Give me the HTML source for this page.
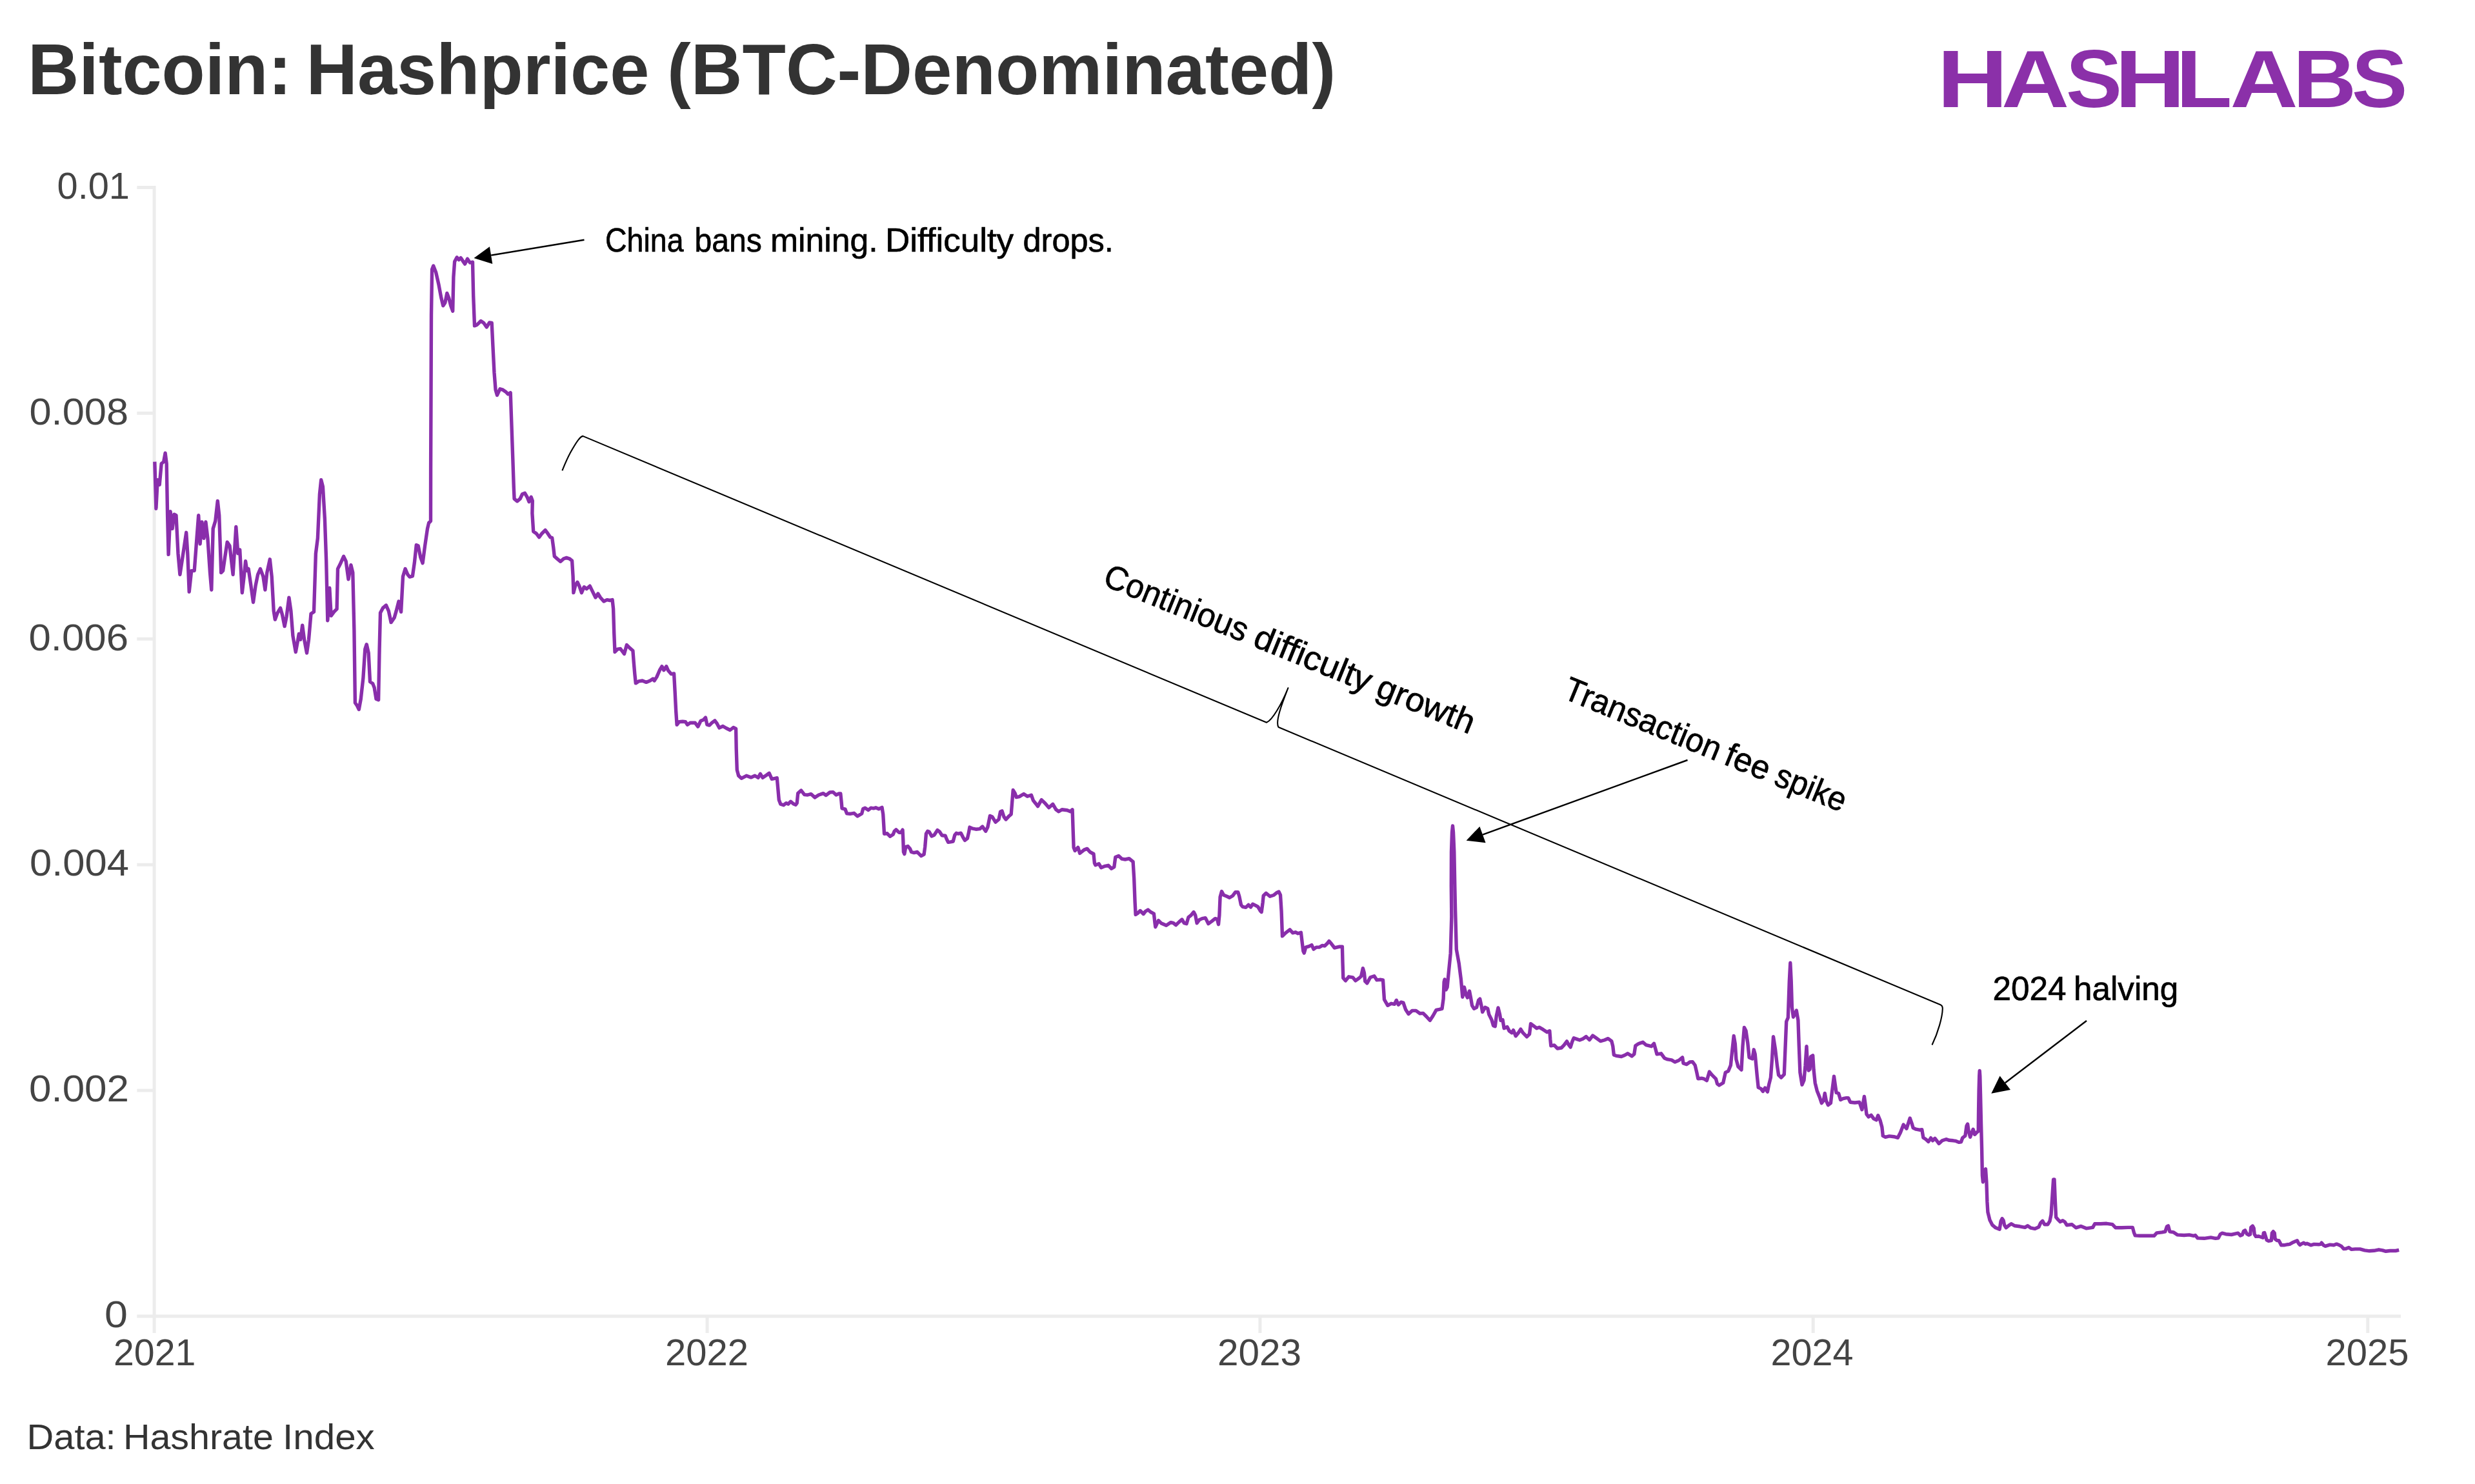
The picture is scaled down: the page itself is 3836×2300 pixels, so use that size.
<!DOCTYPE html>
<html lang="en"><head><meta charset="utf-8"><title>Bitcoin: Hashprice (BTC-Denominated)</title>
<style>
html,body{margin:0;padding:0;background:#fff;}
body{width:3836px;height:2300px;overflow:hidden;}
svg{display:block;}
text{font-family:"Liberation Sans",sans-serif;}
.title{font-size:112px;font-weight:bold;fill:#333333;}
.logo{font-size:126px;font-weight:bold;fill:#8b30a9;}
.tick{font-size:57px;fill:#444444;}
.foot{font-size:56px;fill:#333333;}
.ann{font-size:52px;fill:#000;stroke:#000;stroke-width:0.7px;}
</style></head><body>
<svg width="3836" height="2300" viewBox="0 0 3836 2300">
<rect width="3836" height="2300" fill="#fff"/>
<text class="title" y="146" ><tspan x="43" textLength="409" lengthAdjust="spacingAndGlyphs">Bitcoin:</tspan> <tspan x="474.5" textLength="531.9" lengthAdjust="spacingAndGlyphs">Hashprice</tspan> <tspan x="1034" textLength="1036.3" lengthAdjust="spacingAndGlyphs">(BTC-Denominated)</tspan></text>
<text class="logo" y="165.6" ><tspan x="3002.5" textLength="109.5" lengthAdjust="spacingAndGlyphs">H</tspan><tspan x="3102" textLength="105.1" lengthAdjust="spacingAndGlyphs">A</tspan><tspan x="3202" textLength="86.9" lengthAdjust="spacingAndGlyphs">S</tspan><tspan x="3278" textLength="108.9" lengthAdjust="spacingAndGlyphs">H</tspan><tspan x="3372.5" textLength="87.1" lengthAdjust="spacingAndGlyphs">L</tspan><tspan x="3456.5" textLength="105.1" lengthAdjust="spacingAndGlyphs">A</tspan><tspan x="3554" textLength="98.1" lengthAdjust="spacingAndGlyphs">B</tspan><tspan x="3645" textLength="86.3" lengthAdjust="spacingAndGlyphs">S</tspan></text>
<g stroke="#ececec" stroke-width="5" fill="none"><line x1="239.1" y1="288" x2="239.1" y2="2066"/><line x1="212.3" y1="2040" x2="3721" y2="2040"/><line x1="212.3" y1="290.5" x2="239.3" y2="290.5"/><line x1="212.3" y1="640.4" x2="239.3" y2="640.4"/><line x1="212.3" y1="990.3" x2="239.3" y2="990.3"/><line x1="212.3" y1="1340.2" x2="239.3" y2="1340.2"/><line x1="212.3" y1="1690.1" x2="239.3" y2="1690.1"/><line x1="1096.1" y1="2040" x2="1096.1" y2="2066"/><line x1="1952.9" y1="2040" x2="1952.9" y2="2066"/><line x1="2810.2" y1="2040" x2="2810.2" y2="2066"/><line x1="3669.8" y1="2040" x2="3669.8" y2="2066"/></g>
<text class="tick" x="88.5" y="307.7" textLength="112.5" lengthAdjust="spacingAndGlyphs">0.01</text><text class="tick" x="45.5" y="657.6" textLength="153.5" lengthAdjust="spacingAndGlyphs">0.008</text><text class="tick" x="44.5" y="1007.5" textLength="154.5" lengthAdjust="spacingAndGlyphs">0.006</text><text class="tick" x="46" y="1357.4" textLength="153.9" lengthAdjust="spacingAndGlyphs">0.004</text><text class="tick" x="45" y="1707.3" textLength="155.0" lengthAdjust="spacingAndGlyphs">0.002</text><text class="tick" x="162" y="2057.2" textLength="35.9" lengthAdjust="spacingAndGlyphs">0</text><text class="tick" x="176" y="2116" textLength="127.3" lengthAdjust="spacingAndGlyphs">2021</text><text class="tick" x="1031" y="2116" textLength="128.9" lengthAdjust="spacingAndGlyphs">2022</text><text class="tick" x="1887" y="2116" textLength="130" lengthAdjust="spacingAndGlyphs">2023</text><text class="tick" x="2744.5" y="2116" textLength="127.9" lengthAdjust="spacingAndGlyphs">2024</text><text class="tick" x="3604.5" y="2116" textLength="128.9" lengthAdjust="spacingAndGlyphs">2025</text>
<text class="foot" y="2246.3" ><tspan x="41.5" textLength="138.2" lengthAdjust="spacingAndGlyphs">Data:</tspan> <tspan x="191" textLength="232.9" lengthAdjust="spacingAndGlyphs">Hashrate</tspan> <tspan x="438" textLength="142.8" lengthAdjust="spacingAndGlyphs">Index</tspan></text>
<path d="M239.8,715.6 L241.9,788.2 L244.2,743.7 L247.2,751.2 L250.2,718.5 L253.7,715.6 L256.1,702.2 L258.2,718.5 L259.6,798.6 L261.1,859.4 L264.1,792.7 L267.1,819.4 L270,797.1 L273,798.6 L276,857.9 L278.9,890.5 L283.4,860.9 L288.7,825.3 L290.8,857.9 L293.2,917.2 L296.7,884.6 L301.2,884.6 L304.1,846 L307.7,798.6 L310.1,843.1 L313,809 L316,834.2 L318.9,809 L321.9,834.2 L325.5,887.5 L327.8,914.2 L330.2,819.4 L333.8,807.5 L337.3,776.4 L339.7,798.6 L342.7,887.5 L345.6,884.6 L348.6,863.8 L352.2,840.1 L356,846 L361.1,890.5 L364,846 L365.8,816.4 L368.8,857.9 L371.7,852 L375.3,918.7 L378.2,893.5 L380.6,869.8 L382.7,884.6 L385.1,881.6 L388.6,905.3 L392.5,933.5 L396,908.3 L399.6,890.5 L403.5,881.6 L407.9,893.5 L410.9,914.2 L413.8,887.5 L418.3,866.8 L421.2,893.5 L424.2,946.8 L426.3,960.2 L430.1,949.8 L434.6,942.4 L437.5,952.8 L441.1,970.6 L444.1,955.7 L447.9,926.1 L450.9,946.8 L453.9,985.4 L458.3,1010.6 L461.3,994.3 L463.3,982.4 L465.7,991.3 L468.7,969.1 L471.6,991.3 L475.5,1012.1 L478.5,991.3 L482,951.3 L486.5,948.3 L489.4,857.9 L492.4,834.2 L495.4,766 L497.7,743.7 L500.4,754.1 L503.4,804.5 L505.7,869.8 L507.8,961.7 L510.8,911.3 L513.2,954.3 L517.6,948.3 L522.1,943.9 L523.5,881.6 L528,872.7 L532.6,862.3 L536.2,869.8 L540,897.9 L543.9,875.7 L546.8,887.5 L548.9,976.5 L550.4,1089.2 L553.4,1093.6 L556.3,1099.5 L559.3,1083.2 L562.9,1050.6 L565.8,1006.1 L568.2,998.7 L571.2,1012.1 L573.5,1056.6 L577.7,1059.5 L580.1,1065.4 L583,1083.2 L586.6,1084.7 L588.1,1006.1 L589.5,949.8 L593.4,942.4 L598.4,938 L602.3,946.8 L606.1,964.6 L611.2,957.2 L614.2,946.8 L618,932 L621.6,948.3 L624.5,893.5 L628.1,881.6 L631.9,890.5 L634.9,894.1 L639.4,892.9 L642.3,872.7 L645.3,844.6 L648.2,846 L651.8,863.8 L655.1,872.7 L658.6,846 L662.5,819.4 L664.6,810.5 L667.5,807.5 L667.6,725.8 L668.5,488.6 L669.6,417.4 L671.7,412.1 L675.6,421.9 L680,441.2 L683.9,461.9 L686.8,473.8 L689.8,469.3 L692.8,454.5 L695.7,461.9 L698.7,473.8 L701.7,482.1 L702.9,429.3 L704.6,405.6 L708.2,398.8 L711.2,402.6 L714.1,399.6 L717.1,404.1 L720.6,409.1 L724.5,401.1 L728.4,407.1 L732.5,406.2 L733.7,458.9 L735.5,504.9 L739.3,503.4 L745.3,497.5 L749.7,500.5 L754.2,507 L758.6,499.9 L762.2,500.5 L763.9,536 L766,577.5 L768.1,604.2 L770.5,612.5 L774.9,602.8 L779.4,604.2 L783.8,607.2 L787.4,610.8 L791.2,608.7 L792.7,651.7 L794.8,711 L796.3,755.4 L797.1,773.2 L801.6,776.8 L806,773.2 L809.6,765.8 L813.5,764.3 L817,770.3 L820,777.7 L823.2,770.3 L825.3,776.2 L824.9,795.6 L826.7,823.7 L831.1,826.7 L835.6,832.6 L840,826.7 L845.1,821.7 L848.9,826.7 L852.8,832.6 L855.7,833.5 L857.8,848.9 L859.3,862.3 L863.7,866.1 L868.8,870.3 L873.5,866.1 L877.7,864.4 L883,866.1 L886.6,869.1 L888.1,893.4 L888.9,918.6 L891.9,906.8 L894.9,902.3 L897.8,908.2 L901.4,918.6 L905.3,909.7 L909.1,912.7 L914.2,908.2 L917.1,914.2 L923,926 L926.9,920.1 L930.5,926 L935.8,932 L940.8,929.6 L945.3,930.5 L949.1,929.6 L950.6,943.8 L951.8,982.4 L953,1010.5 L957.1,1006.1 L961.6,1005.5 L967.5,1013.5 L971.4,999.6 L976.4,1004.6 L980.9,1008.5 L982.3,1026.8 L983.8,1044.6 L985.3,1058.9 L989.8,1055.9 L995.7,1055 L1001.6,1057.4 L1007.5,1055 L1012,1052.1 L1014.1,1055 L1017.9,1049.1 L1022.4,1038.7 L1025.9,1032.8 L1028.9,1038.7 L1032.8,1032.8 L1035.7,1039.3 L1040.2,1044.6 L1044.6,1044 L1046.1,1071.3 L1047.6,1101 L1049.1,1123.2 L1052.6,1118.8 L1058,1118.2 L1062.4,1118.8 L1065.4,1123.2 L1069.8,1120.2 L1077.2,1120.2 L1081.7,1126.2 L1086.1,1117.3 L1090,1115.8 L1093.5,1112.2 L1095.9,1123.2 L1099.5,1124.1 L1103.2,1120.4 L1107.9,1116.8 L1111.3,1121.4 L1114.8,1128.1 L1120.4,1125.5 L1125.5,1128.5 L1131.5,1131.5 L1136.6,1127.5 L1140.6,1129.5 L1141.2,1160.9 L1142.3,1193.2 L1144.7,1202.3 L1149.1,1206.3 L1156.8,1202.3 L1163.9,1204.9 L1170,1202.3 L1175,1205.3 L1178.4,1199.3 L1182.1,1205.3 L1188.1,1201.3 L1192.2,1198.3 L1196.2,1207.3 L1201.3,1206.3 L1204.3,1205.7 L1205.7,1221.5 L1207.3,1239.7 L1209.8,1246.2 L1214.4,1247.8 L1218.5,1244.7 L1221.5,1246.2 L1225.5,1242.3 L1229.6,1245.8 L1233.2,1247.4 L1235.2,1244.7 L1236.7,1229.6 L1241.7,1225.1 L1246.8,1231.6 L1251.8,1232 L1256.9,1230.6 L1262.9,1236.1 L1269,1232 L1276.1,1229.6 L1280.1,1232.6 L1286.2,1228 L1291.2,1227.6 L1295.9,1232 L1300.3,1230 L1302.8,1230 L1304,1241.7 L1305,1252.8 L1310,1254.2 L1312.5,1260.9 L1317.5,1261.3 L1323.6,1260.3 L1329,1265 L1335.7,1260.9 L1337.7,1253.4 L1340.8,1252.2 L1345.8,1255.5 L1349.9,1252.2 L1353.9,1252.8 L1357.3,1251.8 L1362,1253.8 L1367,1251.4 L1368.7,1261.9 L1369.7,1278.1 L1370.5,1292.2 L1375.1,1291.8 L1379.6,1296.3 L1384.2,1293.3 L1386.2,1288.2 L1388.9,1285.8 L1393.3,1290.2 L1396.4,1290.2 L1399,1286.2 L1399.8,1302.4 L1400.4,1320.5 L1401.8,1323.6 L1403.8,1312.5 L1407.1,1311.5 L1410.5,1315.5 L1412.5,1320.5 L1416.6,1321.6 L1421.6,1320.5 L1424.7,1323.6 L1427.7,1326.6 L1432.1,1324.2 L1433.7,1312.5 L1435.4,1292.2 L1437.8,1288.2 L1440.2,1289.2 L1443.9,1295.9 L1447.9,1294.3 L1453,1286.6 L1456.4,1289.2 L1460,1294.7 L1465.1,1295.3 L1467.1,1300.3 L1469.7,1305.4 L1473.2,1304.8 L1477.2,1304 L1479.8,1294.3 L1482.3,1291.2 L1485.3,1292.2 L1489.3,1291.2 L1492.4,1297.3 L1495.4,1302.4 L1499.4,1299.3 L1501.5,1290.2 L1502.9,1282.1 L1507.5,1284.2 L1512.6,1285.2 L1518.6,1284.6 L1522.7,1281.1 L1527.7,1288.2 L1530.8,1282.1 L1534.4,1264.4 L1537.9,1266 L1542.9,1274.1 L1548,1270 L1550.6,1257.9 L1553,1256.9 L1556,1266 L1559.1,1270 L1563.1,1265.6 L1567.2,1261.9 L1568.8,1241.7 L1570.2,1224.5 L1573.2,1229.6 L1575.2,1235.6 L1579.9,1234.6 L1586.7,1230.5 L1592.3,1234.2 L1598.4,1232.2 L1601.4,1240.6 L1605.5,1245.7 L1608.5,1249.7 L1614.2,1239.6 L1619.6,1244.7 L1625.7,1251.8 L1631.8,1246.3 L1636.8,1254.8 L1640.9,1257.8 L1645.9,1254.8 L1654,1255.8 L1659,1257.8 L1662.1,1254.8 L1663.1,1285.1 L1664.1,1313.4 L1666.1,1318.5 L1670.8,1313.4 L1673.6,1322.5 L1680.3,1317.1 L1684.9,1315.4 L1689.4,1320.5 L1695,1323.5 L1696.4,1337.7 L1697.9,1340.7 L1703.1,1338.7 L1706.6,1344.7 L1711.6,1342.7 L1717.7,1341.3 L1722.7,1346.2 L1726.8,1343.7 L1728.8,1328.6 L1733.8,1326.6 L1738.9,1331.2 L1743.9,1332 L1750,1330.6 L1756.1,1335.6 L1757.7,1361.9 L1759.1,1398.3 L1760.1,1417.5 L1763.2,1415.5 L1767.2,1411.5 L1772.2,1416.5 L1775.3,1412.5 L1779.3,1410 L1783.4,1413.5 L1788.4,1416.1 L1790,1430.7 L1790.8,1436.7 L1795.5,1426.6 L1799.5,1430.7 L1807.6,1434.3 L1814.7,1429.6 L1818.7,1430.7 L1822.4,1433.7 L1827.8,1428.6 L1831.9,1425 L1835.3,1430.7 L1839,1431.7 L1842,1421.6 L1846,1418.5 L1850.1,1413.5 L1852.7,1418.5 L1855.1,1430.7 L1858.8,1425.6 L1863.2,1423.6 L1868.3,1422.6 L1872.9,1431.7 L1878.4,1427.6 L1883.4,1423.6 L1886.5,1424.6 L1888.5,1432.7 L1889.9,1418.5 L1891.1,1390.2 L1893.5,1381.5 L1896.6,1387.2 L1901.6,1389.2 L1905.7,1391.2 L1910.7,1388.2 L1914.8,1382.7 L1918.8,1382.7 L1920.8,1389.2 L1923.5,1402.4 L1925.9,1405.4 L1930.9,1406.4 L1935,1402.4 L1938.4,1406 L1941.6,1401.3 L1946.1,1403.4 L1949.7,1405.4 L1953.2,1411.5 L1955.2,1413.5 L1957.2,1398.3 L1958.2,1388.2 L1962.3,1384.2 L1968.3,1389.2 L1974.4,1387.2 L1979.4,1383.2 L1982.1,1382.1 L1984.5,1387.2 L1986.1,1412.5 L1987.5,1450.9 L1992.6,1445.8 L1999.1,1440.8 L2003.7,1445.8 L2007.7,1444.8 L2011.8,1446.8 L2016.4,1445.2 L2018.5,1463 L2019.9,1474.1 L2021.3,1477.1 L2023.9,1468.1 L2029,1466.6 L2033,1464.6 L2036,1471.1 L2040.1,1468.1 L2045.1,1468.1 L2049.2,1465.4 L2053.2,1466 L2057.3,1462 L2059.9,1458.6 L2063.2,1462.3 L2068.3,1469 L2075.4,1467.3 L2080.4,1467.3 L2081,1491.6 L2081.8,1515.8 L2085.5,1519.9 L2090.5,1513.8 L2096.6,1514.8 L2101,1519.9 L2106.7,1515.8 L2109.7,1512.8 L2112.4,1500.7 L2114.4,1507.8 L2115.8,1520.9 L2118.8,1523.9 L2123.9,1514.8 L2129.9,1512.8 L2134,1518.9 L2140.1,1518.3 L2143.5,1518.9 L2144.5,1534 L2145.5,1549.2 L2150.8,1558.3 L2156.2,1555.3 L2161.3,1556.3 L2164.3,1550.2 L2167.3,1557.3 L2171.4,1553.2 L2175,1554.2 L2178.5,1564.4 L2183.1,1571.4 L2188.6,1566.4 L2194.6,1566.4 L2200.7,1570.8 L2205.7,1570.4 L2210.8,1575.5 L2216.3,1581.5 L2220.9,1574.5 L2226,1565.4 L2231,1564.4 L2235,1563.3 L2237.1,1548.2 L2238.1,1521.9 L2239.1,1517.9 L2241.1,1534 L2243.1,1530 L2245.2,1507.8 L2248.2,1477.4 L2249.8,1420.8 L2249.6,1400 L2249.3,1373 L2249.5,1320 L2250.5,1290 L2251.5,1280 L2252.5,1290 L2253.8,1320 L2254.8,1373 L2255.6,1410 L2255.9,1420.8 L2257.3,1471.4 L2261.3,1493.6 L2264.4,1517.9 L2266.8,1545.2 L2269.4,1530 L2272.4,1542.1 L2274.5,1546.2 L2277.5,1536.1 L2279.5,1546.2 L2281.5,1558.3 L2284.6,1563.3 L2288.6,1561.3 L2291.6,1550.2 L2293.7,1548.2 L2295.7,1557.3 L2297.7,1568.4 L2301.7,1561.3 L2305.8,1563.3 L2307.8,1572.4 L2311.9,1580.5 L2314.5,1589.6 L2317.3,1590.6 L2319.3,1574.5 L2322,1561.9 L2324.6,1572.4 L2326,1581.5 L2329,1580.5 L2331.1,1593.7 L2336.1,1591.6 L2339.1,1597.7 L2343.2,1600.7 L2345.6,1596.7 L2349.2,1605.8 L2353.3,1600.7 L2356.9,1595.1 L2360.4,1600.7 L2366.4,1606.8 L2370.5,1602.8 L2372.5,1586.6 L2376.5,1589.6 L2381.6,1593.7 L2385.6,1592.2 L2391.7,1595.7 L2397.8,1599.7 L2401.8,1597.7 L2402.8,1610.8 L2403.8,1620.9 L2408.9,1619.9 L2413.9,1625 L2420,1624 L2424,1619.9 L2428.5,1613.9 L2431.1,1618.9 L2434.1,1623 L2436.6,1614.9 L2439.2,1608.8 L2444.3,1610.6 L2448.3,1612 L2453.4,1610 L2458.4,1606.6 L2463.5,1611.6 L2468.5,1605.1 L2473.6,1608.6 L2480.6,1613.6 L2486.7,1612 L2492.4,1609.6 L2497.8,1613.6 L2499.8,1621.7 L2501.3,1634.9 L2504.9,1636.3 L2513,1637.5 L2518,1635.5 L2522.7,1632.8 L2529.2,1636.9 L2532.8,1633.8 L2534.8,1620.7 L2539.3,1617.7 L2546.3,1615.2 L2551.4,1619.7 L2559.5,1621.7 L2563.5,1617.3 L2565.9,1625.8 L2568,1633.8 L2574.6,1632.8 L2579.7,1639.9 L2584.7,1641.9 L2590.8,1642.9 L2595.9,1646 L2601.9,1643.5 L2607.6,1638.9 L2609,1648 L2614.1,1649.6 L2619.1,1646 L2623.2,1645.6 L2627.2,1651 L2629.8,1662.1 L2631.8,1671.8 L2637.3,1671.2 L2641.3,1672.2 L2645.4,1674.7 L2649.4,1661.1 L2653.5,1666.2 L2659.5,1672.2 L2661.6,1679.9 L2664.6,1682 L2670.7,1678.3 L2674.3,1662.1 L2678.7,1660.1 L2682.4,1651 L2684.8,1627.8 L2687.2,1605.5 L2689.3,1617.7 L2690.9,1641.9 L2693.9,1653 L2699,1658.1 L2701,1621.7 L2703.4,1592.4 L2706,1597.5 L2708.7,1615.6 L2711.1,1638.9 L2716.1,1640.9 L2718.2,1626.8 L2720.2,1633.8 L2723.2,1666.2 L2725.2,1685.4 L2729.3,1687.4 L2732.3,1691.5 L2735.7,1686 L2739.4,1692.1 L2741.8,1680.3 L2744.4,1670.2 L2746.5,1641.9 L2748.5,1606.6 L2751.5,1625.8 L2754.5,1652 L2756.6,1666.2 L2760.6,1670.2 L2765.3,1665.2 L2766.7,1631.8 L2768.7,1583.3 L2771.3,1577.2 L2773.3,1520.6 L2774.8,1492.3 L2776.2,1520.6 L2777.4,1561.1 L2779.4,1576.2 L2781.8,1572.2 L2784.3,1566.1 L2786.9,1581.3 L2788.3,1621.7 L2789.9,1662.1 L2793,1681.3 L2796,1674.3 L2798,1652 L2800,1621.7 L2801,1641.9 L2803.1,1659.1 L2805.1,1657.1 L2806.5,1637.9 L2809.7,1635.9 L2811.1,1658.1 L2813.2,1678.3 L2816.2,1690.4 L2820.2,1700.5 L2823.3,1709.6 L2826.3,1705.6 L2828.3,1694.5 L2830.3,1705.6 L2833.4,1712.7 L2837.4,1709.6 L2839.4,1692.5 L2842.5,1668.2 L2844.5,1682.4 L2846.1,1693.5 L2849.6,1694.5 L2852.6,1704.6 L2856.6,1702.6 L2861.7,1701.6 L2864.7,1701.6 L2867.7,1708.2 L2874.8,1709 L2881.9,1708.2 L2885.9,1719.8 L2889.4,1699.5 L2891,1710.7 L2893,1726.8 L2896,1730.9 L2900.1,1728.4 L2904.1,1733.9 L2908.2,1735.9 L2910.8,1728.8 L2914.2,1736.9 L2916.9,1747 L2918.3,1760 L2918.2,1760.3 L2922.2,1762.3 L2928.3,1760.9 L2935.4,1761.7 L2941.4,1763.3 L2945.5,1755.2 L2950.1,1743.1 L2955,1749.2 L2957.6,1741.1 L2960.2,1733 L2963.1,1741.1 L2965.1,1748.1 L2969.7,1750.2 L2974.8,1751.2 L2978.8,1750.8 L2980.9,1763.3 L2984.9,1765.7 L2988.9,1769.4 L2992.6,1763.7 L2995.4,1767.8 L2999,1764.3 L3002.1,1768.4 L3005.1,1772.4 L3010.2,1767.8 L3016.2,1765.7 L3021.3,1767.3 L3027.3,1767.8 L3031.4,1768.4 L3036.4,1770.4 L3039.5,1769.8 L3041.9,1763.3 L3045.9,1760.3 L3048,1745.1 L3049.6,1742.1 L3051.2,1753.2 L3053.6,1762.3 L3056.1,1755.2 L3058.1,1750.2 L3060.7,1758.3 L3063.7,1755.2 L3066.2,1753.2 L3066.6,1720 L3067.1,1690 L3067.7,1668 L3068.2,1659.5 L3068.8,1668 L3069.5,1695 L3070.6,1743 L3071.6,1781 L3072.4,1821.9 L3073.4,1832 L3075.5,1815.9 L3077.5,1811.8 L3078.9,1832 L3079.9,1862.4 L3080.9,1878.5 L3083.9,1890.7 L3088,1898.7 L3093,1902.8 L3099.1,1905.2 L3101.1,1892.7 L3103.2,1888.6 L3105.2,1891.7 L3106.6,1898.7 L3109.2,1902.8 L3114.3,1898.7 L3117.3,1896.7 L3122.4,1899.8 L3130.4,1900.8 L3138.5,1902.4 L3142.6,1899.8 L3147.6,1903.2 L3153.7,1904.4 L3159.8,1901.8 L3162.8,1895.1 L3165.8,1892.3 L3168.8,1897.7 L3173.9,1897.7 L3176.9,1892.7 L3179,1882.6 L3181,1852.2 L3182.6,1828 L3184,1828 L3185.4,1862.4 L3186.6,1886.6 L3190.1,1890.7 L3193.1,1893.7 L3197.1,1891.7 L3200.2,1893.7 L3203.2,1898.7 L3211.3,1897.7 L3217.4,1902.8 L3225.4,1900.4 L3233.5,1903.8 L3243.6,1902.4 L3246.7,1896.7 L3255.8,1896.7 L3264.9,1896.3 L3274,1897.7 L3279,1902.8 L3288.1,1902.8 L3298.2,1902.4 L3305.3,1902.4 L3307.3,1909.9 L3309.3,1914.9 L3316.4,1915.3 L3328.5,1915.3 L3338.6,1915.3 L3342.7,1910.9 L3350.8,1909.9 L3355.8,1908.8 L3358.5,1900.8 L3360.5,1899.8 L3362.9,1908.8 L3369,1909.9 L3375,1913.9 L3385.1,1914.5 L3393.2,1913.9 L3399.9,1915.3 L3402.5,1914.5 L3406.2,1918.9 L3416.4,1919.3 L3426.5,1917.9 L3433.8,1919.3 L3438.2,1918.9 L3441.1,1913.1 L3444,1911.2 L3449.8,1912.7 L3458.5,1913.5 L3464.4,1912.1 L3468.7,1911.2 L3472.4,1915 L3475.3,1913.8 L3477.5,1908 L3479.6,1906.8 L3482.5,1912.4 L3485.5,1914.1 L3487.6,1913.1 L3488.8,1902.2 L3491.3,1900 L3493.2,1903.6 L3494.2,1913.1 L3496.4,1916.4 L3500.7,1916 L3505.1,1917.5 L3507.3,1918.2 L3508.3,1910.9 L3509.7,1910.6 L3511.6,1916.7 L3513.1,1921.8 L3516,1923.3 L3520.4,1922.5 L3521.4,1910.9 L3523.3,1908.7 L3525.2,1910.9 L3526.2,1920.4 L3529.1,1922.5 L3532,1922.8 L3534.2,1926.9 L3535.6,1929.8 L3540,1929.8 L3545.8,1928.7 L3548.7,1928.4 L3554.5,1925.2 L3560.4,1922.8 L3562.5,1926.9 L3564.7,1929.5 L3567.6,1927.6 L3570.5,1926.2 L3573.5,1928.1 L3575.6,1927.2 L3581.5,1929.8 L3586.5,1928.4 L3593.8,1928.7 L3596.7,1928.4 L3598.2,1926.2 L3601.1,1929.8 L3604,1931.3 L3611.3,1929.1 L3617.1,1929.8 L3621.5,1928.1 L3625.8,1929.8 L3628.7,1931.3 L3632.4,1935.6 L3636,1935.3 L3640.4,1933.5 L3644.7,1936.4 L3650.5,1935.9 L3657.8,1935.9 L3665.1,1937.8 L3672.4,1938.8 L3679.6,1938.3 L3686.9,1936.8 L3692.7,1937.8 L3697.8,1939.3 L3704.4,1938.5 L3713.1,1938.5 L3718.2,1937.4" fill="none" stroke="#892eab" stroke-width="5.4" stroke-linejoin="round" stroke-linecap="butt"/>
<path d="M871.4,729.3 C875,720.5 880.5,708 884.3,701.1 C888,694.5 893,686 897.2,680.7 C899.5,678 901.5,676.3 903.4,675.9 L1963,1119.8 C1972,1116 1986,1092 1996.4,1066.3 C1988,1088 1976,1118 1981.5,1127 L3007.5,1557.3 Q3011,1559 3010.8,1563.5 C3010.5,1576 3004,1600 2994.5,1619.5" fill="none" stroke="#000" stroke-width="2.1" stroke-linejoin="round"/>
<line x1="905.5" y1="371.8" x2="761.1" y2="395.6" stroke="#000" stroke-width="2.4"/><polygon points="734.5,400.0 758.9,382.3 763.3,408.9" fill="#000"/>
<line x1="2615.5" y1="1178.0" x2="2298.0" y2="1293.6" stroke="#000" stroke-width="2.4"/><polygon points="2272.6,1302.8 2293.4,1280.9 2302.6,1306.3" fill="#000"/>
<line x1="3234.0" y1="1582.0" x2="3107.8" y2="1678.3" stroke="#000" stroke-width="2.4"/><polygon points="3086.3,1694.7 3099.6,1667.6 3116.0,1689.1" fill="#000"/>
<text class="ann" y="390.2" ><tspan x="938" textLength="121.6" lengthAdjust="spacingAndGlyphs">China</tspan> <tspan x="1076.5" textLength="104.4" lengthAdjust="spacingAndGlyphs">bans</tspan> <tspan x="1194" textLength="166.6" lengthAdjust="spacingAndGlyphs">mining.</tspan> <tspan x="1372" textLength="199.1" lengthAdjust="spacingAndGlyphs">Difficulty</tspan> <tspan x="1585.5" textLength="140.3" lengthAdjust="spacingAndGlyphs">drops.</tspan></text>
<text class="ann" y="1549.7" ><tspan x="3088.5" textLength="114.1" lengthAdjust="spacingAndGlyphs">2024</tspan> <tspan x="3214" textLength="162.2" lengthAdjust="spacingAndGlyphs">halving</tspan></text>
<g transform="translate(1710,907.5) rotate(22.1)"><text class="ann" y="0" ><tspan x="-3" textLength="236.5" lengthAdjust="spacingAndGlyphs">Continious</tspan> <tspan x="248" textLength="192.5" lengthAdjust="spacingAndGlyphs">difficulty</tspan> <tspan x="453.5" textLength="159.2" lengthAdjust="spacingAndGlyphs">growth</tspan></text>
</g>
<g transform="translate(2421.2,1081.7) rotate(22.3)"><text class="ann" y="0" ><tspan x="-1" textLength="258.6" lengthAdjust="spacingAndGlyphs">Transaction</tspan> <tspan x="268.5" textLength="71.3" lengthAdjust="spacingAndGlyphs">fee</tspan> <tspan x="352.5" textLength="114.7" lengthAdjust="spacingAndGlyphs">spike</tspan></text>
</g>
</svg></body></html>
